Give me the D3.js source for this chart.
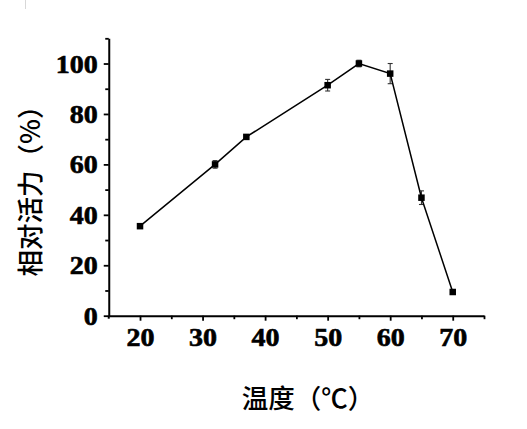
<!DOCTYPE html>
<html><head><meta charset="utf-8">
<script src="https://cdn.jsdelivr.net/npm/d3@7"></script>
<style>body{margin:0;background:#fff}svg{display:block}</style>
</head><body>
<script>
const temperatures = [20, 32, 37, 50, 55, 60, 65, 70];
const activity = [35.5, 60.0, 70.9, 91.4, 100.0, 96.0, 46.8, 9.4];
const errors = [0.5, 1.5, 0.6, 2.3, 1.3, 4.0, 2.7, 0.5];
const xTicks = [20, 30, 40, 50, 60, 70];
const yTicks = [0, 20, 40, 60, 80, 100];
const xLabel = "温度（℃）";
const yLabel = "相对活力（%）";

const W = 527, H = 429;
const svg = d3.select("body").append("svg").attr("width", W).attr("height", H);

svg.append("line").attr("x1", 25.5).attr("x2", 25.5).attr("y1", 0).attr("y2", 9)
  .attr("stroke", "#d8d8d8").attr("stroke-width", 1);

const x = d3.scaleLinear().domain([15, 75]).range([108.75, 484]);
const y = d3.scaleLinear().domain([0, 110]).range([315.7, 38.3]);

const g = svg.append("g");

const xMinor = d3.range(25, 76, 10);
const yMinor = d3.range(10, 111, 20);

const xAxis = g.append("g").attr("transform", `translate(0,${y(0)})`)
  .call(d3.axisBottom(x).tickValues(xTicks).tickSize(5).tickSizeOuter(0).tickPadding(6).tickFormat(d3.format("d")));
g.append("g").attr("transform", `translate(0,${y(0)})`)
  .call(d3.axisBottom(x).tickValues(xMinor).tickSize(3.5).tickSizeOuter(0).tickFormat(""))
  .select(".domain").remove();

const yAxis = g.append("g").attr("transform", `translate(${x(15)},0)`)
  .call(d3.axisLeft(y).tickValues(yTicks).tickSize(5).tickSizeOuter(0).tickPadding(5).tickFormat(d3.format("d")));
g.append("g").attr("transform", `translate(${x(15)},0)`)
  .call(d3.axisLeft(y).tickValues(yMinor).tickSize(3.5).tickSizeOuter(0).tickFormat(""))
  .select(".domain").remove();

g.selectAll(".domain").attr("stroke", "#000").attr("stroke-width", 2);
g.selectAll(".tick line").attr("stroke", "#000").attr("stroke-width", 1.8);

g.append("line").attr("x1", x(15)).attr("x2", x(15)).attr("y1", y(0)).attr("y2", y(0) + 3)
  .attr("stroke", "#000").attr("stroke-width", 2);

g.selectAll(".tick text")
  .attr("font-family", "'Liberation Serif', 'Times New Roman', serif")
  .attr("font-weight", "bold")
  .attr("font-size", 25)
  .attr("fill", "#000")
  .attr("stroke", "#000").attr("stroke-width", 0.6);

xAxis.selectAll(".tick text").each(function(){
  const t = d3.select(this);
  const yy = +t.attr("y");
  t.attr("y", null).attr("dy", null)
   .attr("transform", `translate(0,${yy + 19}) scale(1.12,1)`);
});
yAxis.selectAll(".tick text").each(function(){
  const t = d3.select(this);
  const xx = +t.attr("x");
  t.attr("x", null).attr("dy", null)
   .attr("transform", `translate(${xx - 1},8.5) scale(1.12,1)`);
});

const data = temperatures.map((t, i) => ({t, v: activity[i], e: errors[i]}));

const eb = g.append("g").attr("stroke", "#333").attr("stroke-width", 1.1);
data.forEach(d => {
  eb.append("line").attr("x1", x(d.t)).attr("x2", x(d.t)).attr("y1", y(d.v - d.e)).attr("y2", y(d.v + d.e));
  [d.v - d.e, d.v + d.e].forEach(v => {
    eb.append("line").attr("x1", x(d.t) - 2.5).attr("x2", x(d.t) + 2.5).attr("y1", y(v)).attr("y2", y(v));
  });
});

g.append("path").datum(data)
  .attr("d", d3.line().x(d => x(d.t)).y(d => y(d.v)))
  .attr("fill", "none").attr("stroke", "#000").attr("stroke-width", 1.5);

const s = 6.5;
g.selectAll("rect.m").data(data).enter().append("rect")
  .attr("x", d => x(d.t) - s / 2).attr("y", d => y(d.v) - s / 2)
  .attr("width", s).attr("height", s).attr("fill", "#000");

svg.append("text").attr("x", 308).attr("y", 396.5).attr("text-anchor", "middle")
  .attr("dominant-baseline", "central")
  .attr("font-family", "'Noto Sans CJK SC', sans-serif").attr("font-size", 26.5)
  .attr("font-weight", 500).attr("fill", "#000").text(xLabel);

svg.append("text").attr("transform", "translate(28.5,184.5) rotate(-90)")
  .attr("text-anchor", "middle").attr("dominant-baseline", "central")
  .attr("font-family", "'Noto Sans CJK SC', sans-serif").attr("font-size", 26.5)
  .attr("font-weight", 500).attr("fill", "#000").text(yLabel);
</script>
</body></html>
